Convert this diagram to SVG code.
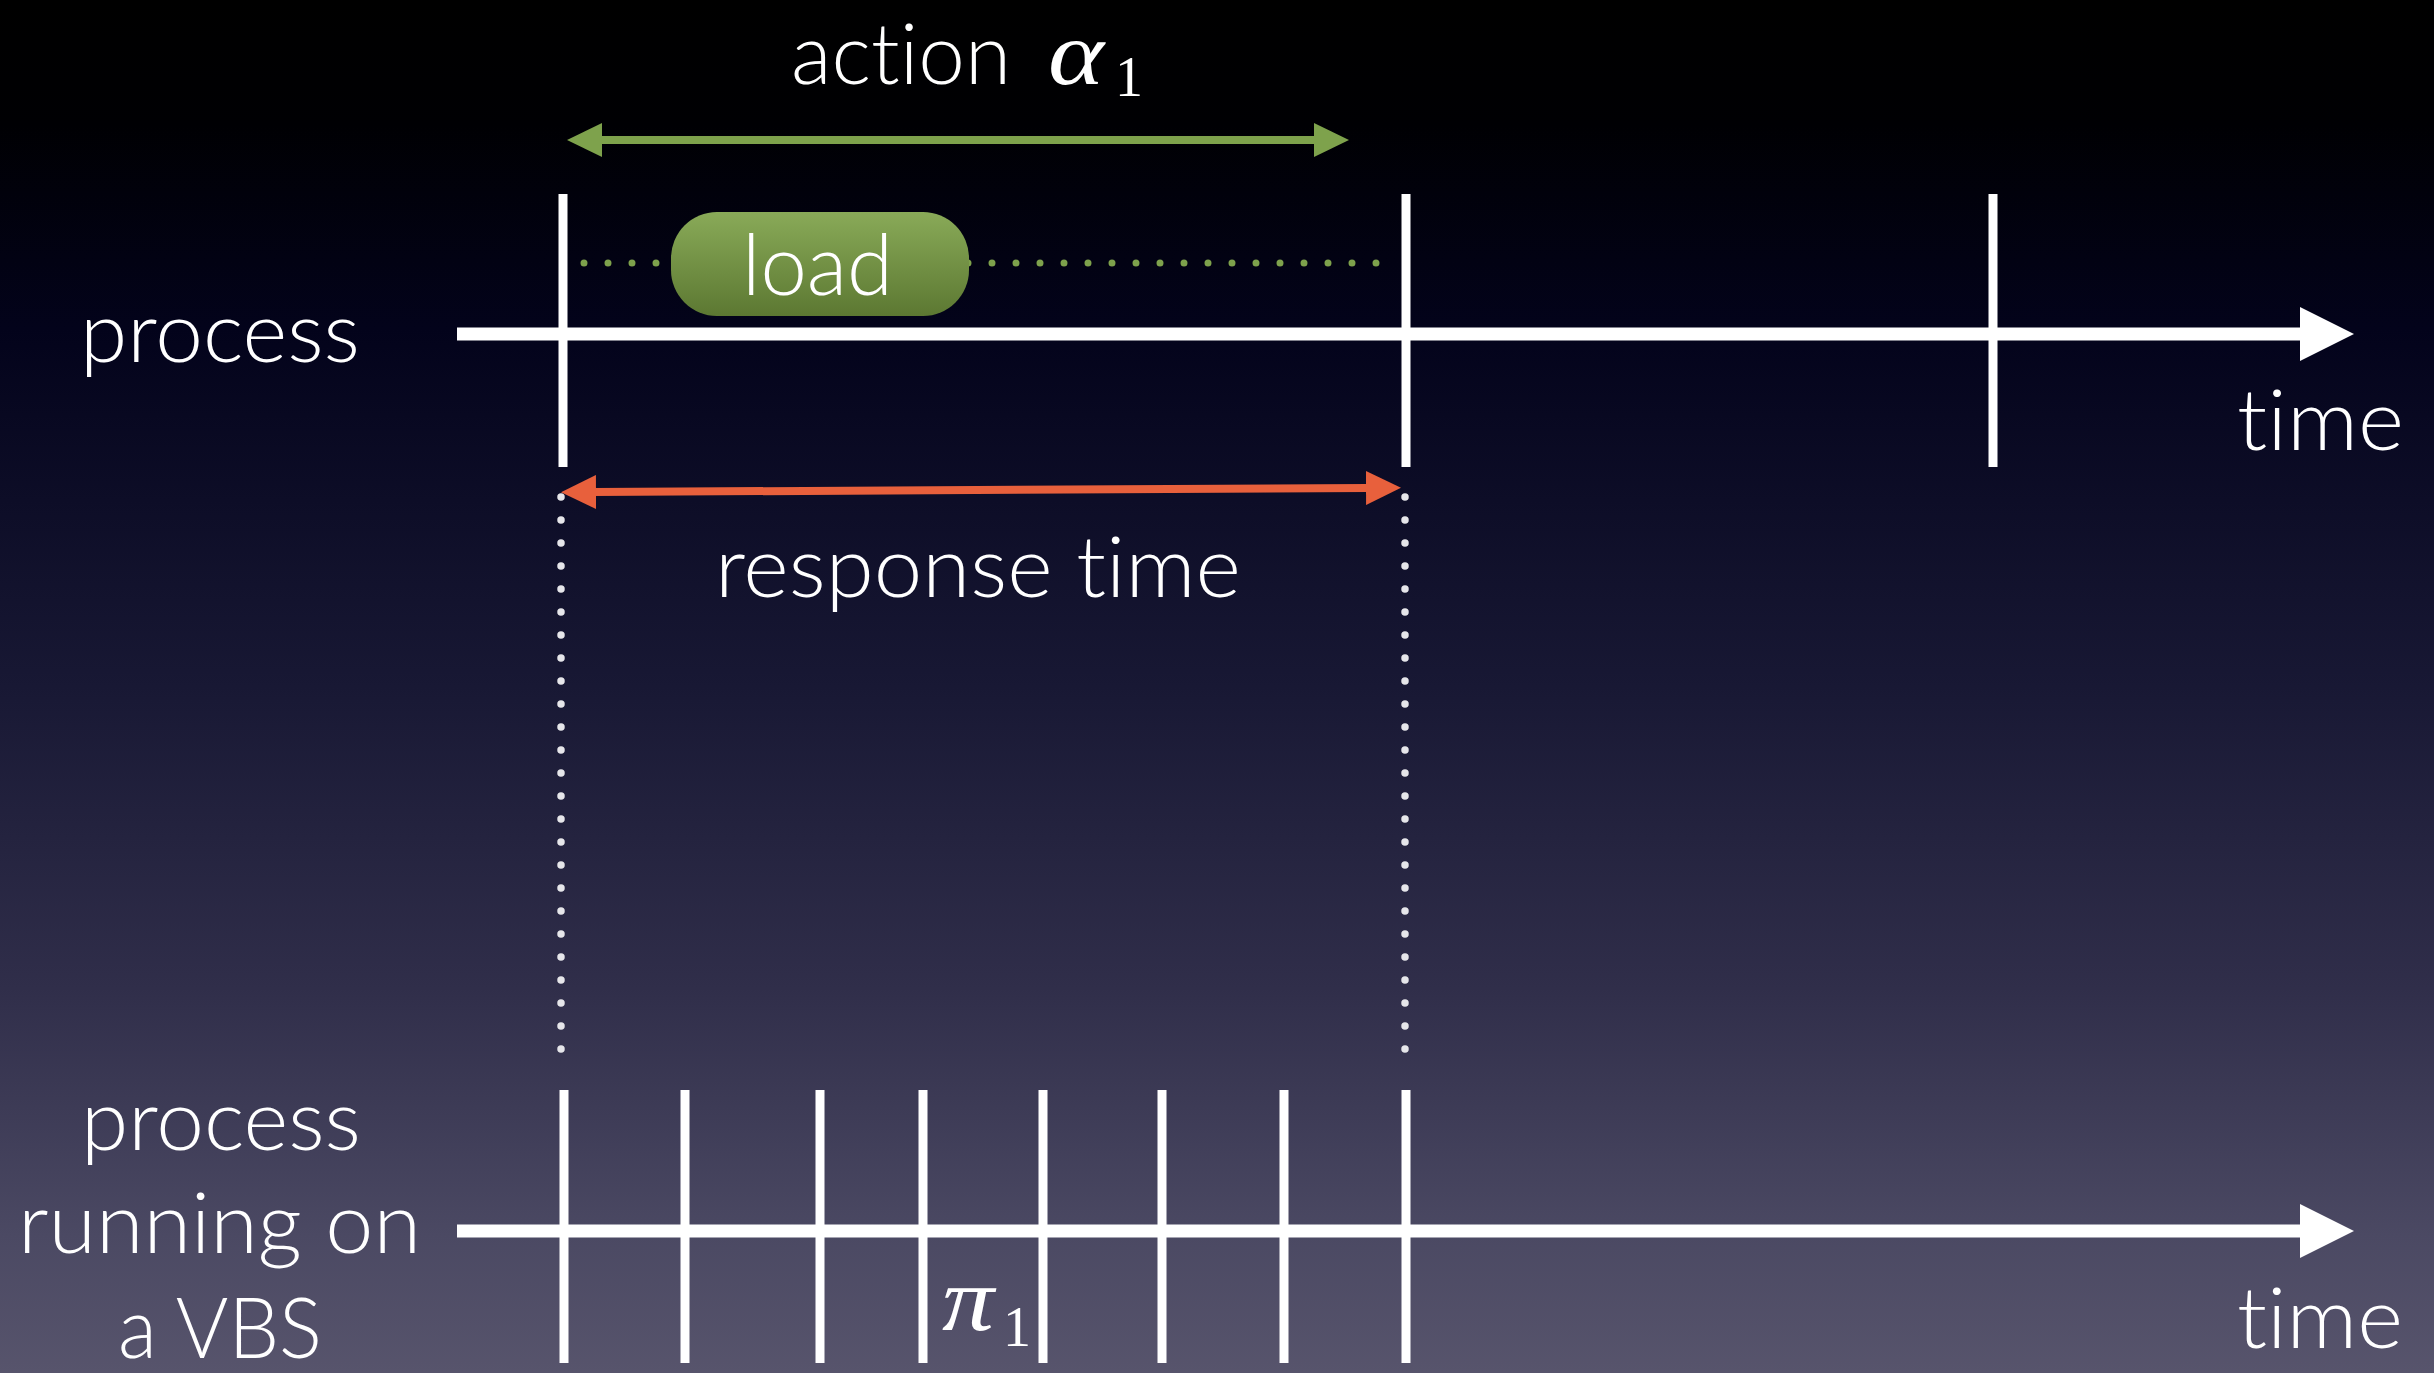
<svg xmlns="http://www.w3.org/2000/svg" width="2434" height="1373" viewBox="0 0 2434 1373">
  <defs>
    <linearGradient id="bg" x1="0" y1="0" x2="0" y2="1">
      <stop offset="0" stop-color="#000000"/>
      <stop offset="0.09" stop-color="#000003"/>
      <stop offset="0.24" stop-color="#03031b"/>
      <stop offset="0.5" stop-color="#181834"/>
      <stop offset="0.72" stop-color="#302e4a"/>
      <stop offset="0.9" stop-color="#4b4963"/>
      <stop offset="1" stop-color="#57546c"/>
    </linearGradient>
    <linearGradient id="loadFill" x1="0" y1="0" x2="0" y2="1">
      <stop offset="0" stop-color="#89aa58"/>
      <stop offset="1" stop-color="#5c7832"/>
    </linearGradient>
    <marker id="headWhite" markerUnits="userSpaceOnUse" viewBox="0 0 54 54" refX="0" refY="27" markerWidth="54" markerHeight="54" orient="auto">
      <path d="M0,0 L54,27 L0,54 Z" fill="#ffffff"/>
    </marker>
    <marker id="headGreen" markerUnits="userSpaceOnUse" viewBox="0 0 35 34" refX="2" refY="17" markerWidth="35" markerHeight="34" orient="auto-start-reverse">
      <path d="M0,0 L35,17 L0,34 Z" fill="#7ea24c"/>
    </marker>
    <marker id="headRed" markerUnits="userSpaceOnUse" viewBox="0 0 35 34" refX="2" refY="17" markerWidth="35" markerHeight="34" orient="auto-start-reverse">
      <path d="M0,0 L35,17 L0,34 Z" fill="#e8603c"/>
    </marker>
  </defs>
  <style>
    .lbl { font-family: Lato, "Open Sans", "Liberation Sans", sans-serif; font-weight: 300; font-size: 84px; fill: #ffffff; font-variant-ligatures: none; font-feature-settings: "liga" 0, "clig" 0; }
    .math { font-family: "Liberation Serif", "DejaVu Serif", serif; font-style: italic; font-size: 90px; fill: #ffffff; }
    .sub { font-family: "Liberation Serif", "DejaVu Serif", serif; font-size: 56px; fill: #ffffff; }
    .axis { stroke: #ffffff; stroke-width: 13; fill: none; }
    .tick { stroke: #ffffff; stroke-width: 9; fill: none; }
    .dotsW { stroke: #e6e6ea; stroke-width: 7.5; stroke-linecap: round; stroke-dasharray: 0 23; fill: none; }
    .dotsG { stroke: #7ea24c; stroke-width: 7; stroke-linecap: round; stroke-dasharray: 0 24; fill: none; }
  </style>

  <rect x="0" y="0" width="2434" height="1373" fill="url(#bg)"/>

  <!-- row labels -->
  <g id="label-process">
    <text class="lbl" x="80" y="362" textLength="280" lengthAdjust="spacingAndGlyphs">process</text>
  </g>
  <g id="label-process-vbs">
    <text class="lbl" x="81" y="1150" textLength="280" lengthAdjust="spacingAndGlyphs">process</text>
    <text class="lbl" x="18" y="1253" textLength="403" lengthAdjust="spacingAndGlyphs">running on</text>
    <text class="lbl" x="118" y="1358" textLength="204" lengthAdjust="spacingAndGlyphs">a VBS</text>
  </g>

  <!-- connectors: axes, ticks, spans -->
  <g id="connectors">
    <line class="axis" x1="457" y1="334" x2="2300" y2="334" marker-end="url(#headWhite)"/>
    <line class="axis" x1="457" y1="1231" x2="2300" y2="1231" marker-end="url(#headWhite)"/>

    <line class="tick" x1="563" y1="194" x2="563" y2="467"/>
    <line class="tick" x1="1406" y1="194" x2="1406" y2="467"/>
    <line class="tick" x1="1993" y1="194" x2="1993" y2="467"/>

    <line class="tick" x1="564" y1="1090" x2="564" y2="1363"/>
    <line class="tick" x1="685" y1="1090" x2="685" y2="1363"/>
    <line class="tick" x1="820" y1="1090" x2="820" y2="1363"/>
    <line class="tick" x1="923" y1="1090" x2="923" y2="1363"/>
    <line class="tick" x1="1043" y1="1090" x2="1043" y2="1363"/>
    <line class="tick" x1="1162" y1="1090" x2="1162" y2="1363"/>
    <line class="tick" x1="1284" y1="1090" x2="1284" y2="1363"/>
    <line class="tick" x1="1406" y1="1090" x2="1406" y2="1363"/>

    <line class="dotsG" x1="584" y1="263" x2="1378" y2="263"/>

    <line x1="600" y1="140" x2="1316" y2="140" stroke="#7ea24c" stroke-width="8" marker-start="url(#headGreen)" marker-end="url(#headGreen)"/>
    <line x1="594" y1="492" x2="1368" y2="488" stroke="#e8603c" stroke-width="8" marker-start="url(#headRed)" marker-end="url(#headRed)"/>

    <line class="dotsW" x1="561" y1="497" x2="561" y2="1052"/>
    <line class="dotsW" x1="1405" y1="497" x2="1405" y2="1052"/>
  </g>

  <!-- the load block -->
  <g id="load">
    <rect x="671" y="212" width="298" height="104" rx="46" ry="46" fill="url(#loadFill)"/>
    <text class="lbl" x="742" y="295" textLength="151" lengthAdjust="spacingAndGlyphs">load</text>
  </g>

  <g id="label-action">
    <text class="lbl" x="791" y="84" textLength="220" lengthAdjust="spacingAndGlyphs">action</text>
    <text class="math" x="1048" y="84" textLength="56" lengthAdjust="spacingAndGlyphs">α</text>
    <text class="sub" x="1115" y="96">1</text>
  </g>

  <g id="label-response">
    <text class="lbl" x="715" y="597" textLength="526" lengthAdjust="spacingAndGlyphs">response time</text>
  </g>

  <g id="label-time-top">
    <text class="lbl" x="2237" y="450" textLength="167" lengthAdjust="spacingAndGlyphs">time</text>
  </g>
  <g id="label-time-bottom">
    <text class="lbl" x="2237" y="1348" textLength="166" lengthAdjust="spacingAndGlyphs">time</text>
  </g>

  <g id="label-pi">
    <text class="math" x="942" y="1330" textLength="52" lengthAdjust="spacingAndGlyphs">π</text>
    <text class="sub" x="1003" y="1346">1</text>
  </g>
</svg>
